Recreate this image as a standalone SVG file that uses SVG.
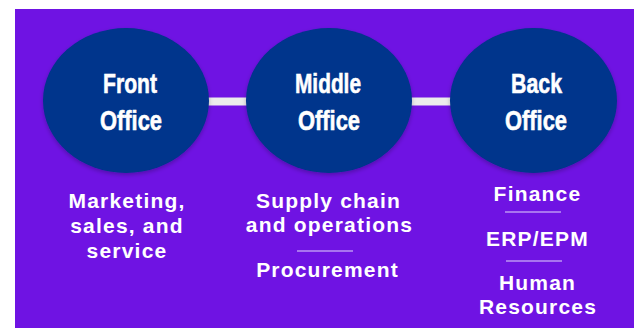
<svg xmlns="http://www.w3.org/2000/svg" width="636" height="328" viewBox="0 0 636 328">
<defs>
<filter id="sh" x="-10%" y="-10%" width="120%" height="125%">
<feDropShadow dx="0" dy="2" stdDeviation="2" flood-color="#000" flood-opacity="0.25"/>
</filter>
<style>
.oval{fill:#01348c;filter:url(#sh)}
.title{font-family:"Liberation Sans","Roboto",sans-serif;font-weight:bold;font-size:28.5px;fill:#ffffff;stroke:#ffffff;stroke-width:0.6;text-anchor:middle}
.desc{font-family:"Liberation Sans","Arial",sans-serif;font-weight:bold;font-size:21px;fill:#ffffff;text-anchor:middle;letter-spacing:1.2px}
.div{stroke:#e2d6fb;stroke-width:1.2}
.bar{fill:#ececec}
</style>
</defs>
<rect x="15" y="9" width="619" height="319" fill="#6f13e3"/>
<g id="connectors">
<rect class="bar" x="205" y="97.5" width="45" height="8"/>
<rect class="bar" x="408" y="97.5" width="46" height="8"/>
</g>
<g id="front-office">
<ellipse class="oval" cx="126" cy="100.5" rx="83" ry="72.5"/>
<text class="title" x="130" y="93" textLength="54" lengthAdjust="spacingAndGlyphs">Front</text>
<text class="title" x="131" y="130" textLength="62" lengthAdjust="spacingAndGlyphs">Office</text>
</g>
<g id="middle-office">
<ellipse class="oval" cx="329" cy="100.5" rx="83" ry="72.5"/>
<text class="title" x="328" y="93" textLength="66" lengthAdjust="spacingAndGlyphs">Middle</text>
<text class="title" x="329" y="130" textLength="62" lengthAdjust="spacingAndGlyphs">Office</text>
</g>
<g id="back-office">
<ellipse class="oval" cx="533.5" cy="100.5" rx="83.5" ry="72.5"/>
<text class="title" x="536.5" y="93" textLength="51" lengthAdjust="spacingAndGlyphs">Back</text>
<text class="title" x="536" y="130" textLength="62" lengthAdjust="spacingAndGlyphs">Office</text>
</g>
<g id="front-desc">
<text class="desc" x="127" y="208">Marketing,</text>
<text class="desc" x="127" y="233">sales, and</text>
<text class="desc" x="127" y="258">service</text>
</g>
<g id="middle-desc">
<text class="desc" x="328.5" y="208">Supply chain</text>
<text class="desc" x="329.5" y="232">and operations</text>
<line class="div" x1="297" y1="251" x2="353" y2="251"/>
<text class="desc" x="327.5" y="277">Procurement</text>
</g>
<g id="back-desc">
<text class="desc" x="537.5" y="201">Finance</text>
<line class="div" x1="505" y1="212" x2="561" y2="212"/>
<text class="desc" x="537.5" y="246">ERP/EPM</text>
<line class="div" x1="506" y1="261" x2="562" y2="261"/>
<text class="desc" x="537.5" y="290">Human</text>
<text class="desc" x="538" y="314">Resources</text>
</g>
</svg>
